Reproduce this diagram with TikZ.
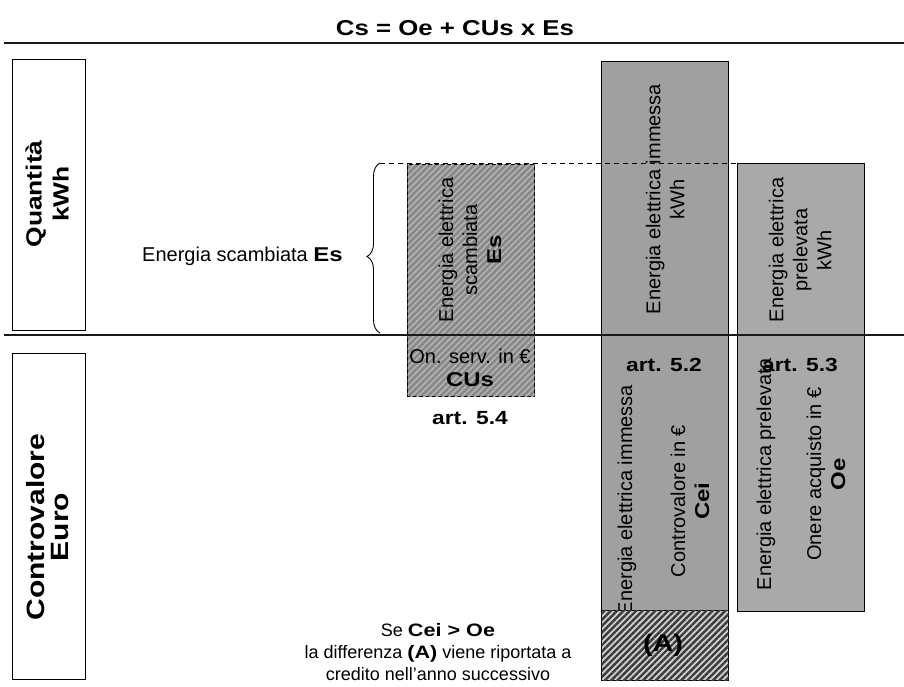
\documentclass[tikz,border=0pt]{standalone}
\usepackage{fontspec}
\setmainfont{Liberation Sans}[BoldFeatures={FakeStretch=1.2}]
\usetikzlibrary{patterns.meta,decorations.pathreplacing}

\definecolor{barimm}{HTML}{A0A0A0}
\definecolor{barpre}{HTML}{A9A9A9}
\definecolor{esbase}{HTML}{888888}
\definecolor{esline}{HTML}{B4B4B4}
\definecolor{crbase}{HTML}{D0D0D0}
\definecolor{crline}{HTML}{3C3C3C}

\begin{document}
\begin{tikzpicture}[x=1pt,y=-1pt,
  lbl/.style={font=\fontsize{20}{24}\selectfont, align=center, inner sep=0pt},
  lblsmall/.style={font=\fontsize{18}{22}\selectfont, align=center, inner sep=0pt},
  art/.style={font=\fontsize{19}{23}\selectfont\bfseries, inner sep=0pt},
  axis/.style={font=\fontsize{22}{27}\selectfont\bfseries, align=center, inner sep=0pt, rotate=90},
  sidebox/.style={draw=black, line width=1pt, fill=white, minimum width=73pt, anchor=north west, inner sep=0pt},
  bar/.style={draw=black, line width=1.2pt, minimum width=127pt, anchor=north west, inner sep=0pt},
  rule/.style={line width=2pt, draw=black!90},
]
\useasboundingbox (0,0) rectangle (904,687);

% title and horizontal rules
\node[font=\fontsize{21.5}{25}\selectfont\bfseries, inner sep=0pt] (title) at (455,28) {Cs = Oe + CUs x Es};
\coordinate (topL) at (4,43);
\coordinate (topR) at (904,43);
\coordinate (midL) at (4,335);
\coordinate (midR) at (904,335);
\draw[rule] (topL) -- (topR);

% axis boxes on the left
\node[sidebox, minimum height=271pt] (qbox) at (12,59) {};
\node[axis] (qtxt) at (47,194) {Quantità\\kWh};
\node[sidebox, minimum height=326pt] (cbox) at (12,353) {};
\node[axis, font=\fontsize{25}{24}\selectfont\bfseries] (ctxt) at (48,527) {Controvalore\\Euro};

% bars
\node[bar, minimum height=232pt, fill=esbase,
      postaction={pattern={Lines[angle=45,distance=4.5pt,line width=1.6pt]}, pattern color=esline}]
      (es) at (407,164) {};
\node[bar, minimum height=619pt, fill=barimm] (imm) at (601,61) {};
\node[bar, minimum height=448pt, fill=barpre] (pre) at (737,163) {};

% lower text of the injected-energy bar, partly covered by the credit area
\node[lbl, rotate=90] (immlow) at (627,500) {Energia elettrica immessa};
\node[bar, minimum height=70pt, fill=crbase,
      postaction={pattern={Lines[angle=45,distance=4.5pt,line width=2.4pt]}, pattern color=crline}]
      (credit) at (601,610) {};
\node[font=\fontsize{24}{27}\selectfont\bfseries, inner sep=0pt] (atxt) at (663,645) {(A)};

% brace and dashed level of exchanged energy
\coordinate (brB) at (380,333);
\coordinate (brT) at (380,163);
\draw[line width=0.9pt, decorate, decoration={brace, amplitude=13pt, aspect=0.45}] (brB) -- (brT);
\draw[line width=0.9pt, dash pattern=on 5pt off 4pt] (brT) -- (pre.north west);
\node[lbl, anchor=east] (estxt) at (343,256) {Energia scambiata \textbf{Es}};

% middle rule
\draw[rule] (midL) -- (midR);

% texts in the upper (quantity) band
\node[lbl, rotate=90] (esup) at (470,250) {Energia elettrica\\scambiata\\\textbf{Es}};
\node[lbl, rotate=90] (immup) at (665,199) {Energia elettrica immessa\\kWh};
\node[lbl, rotate=90] (preup) at (800,250) {Energia elettrica\\prelevata\\kWh};

% texts in the lower (value) band
\node[lbl, font=\fontsize{20}{23}\selectfont] (eslow) at (470,368) {On. serv. in €\\\textbf{CUs}};
\node[art] (a54) at (470,418) {art. 5.4};
\node[lbl, rotate=90] (prelow) at (766,474) {Energia elettrica prelevata};
\node[art] (a52) at (664,365) {art. 5.2};
\node[art] (a53) at (800,365) {art. 5.3};
\node[lbl, rotate=90] (cei) at (690,501) {Controvalore in €\\\textbf{Cei}};
\node[lbl, rotate=90] (oe) at (826,474) {Onere acquisto in €\\\textbf{Oe}};

% note on the credit
\node[lblsmall] (note) at (438,652) {Se \textbf{Cei > Oe}\\la differenza \textbf{(A)} viene riportata a\\credito nell’anno successivo};
\end{tikzpicture}
\end{document}
